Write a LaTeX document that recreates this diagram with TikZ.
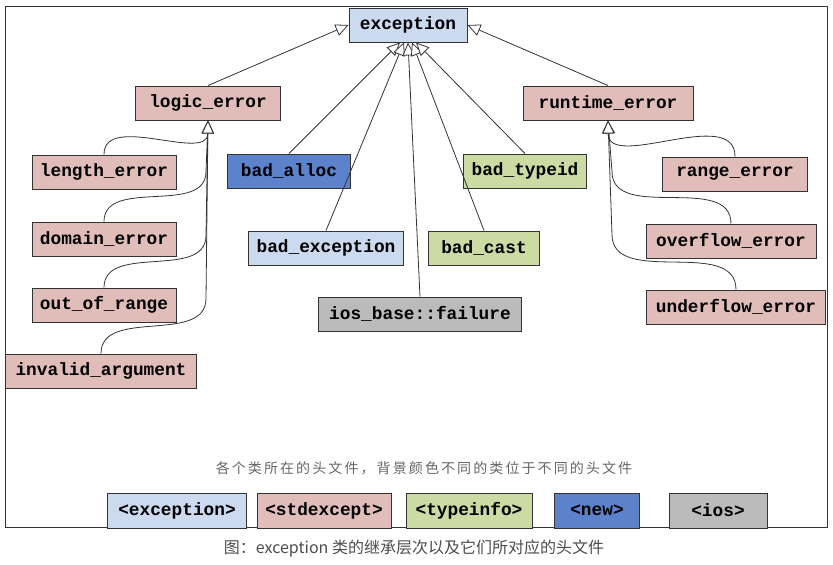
\documentclass[tikz,border=0pt]{standalone}
\usepackage{fontspec}
\usepackage{xcolor}
\usepackage{tikz}
\usetikzlibrary{arrows.meta,positioning,calc}
\setmonofont{Liberation Mono}
\newfontfamily\cjk{Noto Sans CJK SC}
\definecolor{hdrexception}{RGB}{204,218,240}
\definecolor{hdrstdexcept}{RGB}{224,189,185}
\definecolor{hdrtypeinfo}{RGB}{204,218,163}
\definecolor{hdrnew}{RGB}{92,130,204}
\definecolor{hdrios}{RGB}{187,187,187}
\definecolor{edgegray}{RGB}{51,51,51}

\begin{document}
\begin{tikzpicture}[x=1pt, y=1pt,
    cls/.style={draw=edgegray, line width=0.9pt, minimum height=34pt, inner sep=0pt,
      font=\fontsize{17.8}{20}\selectfont\ttfamily\bfseries},
    inh/.style={draw=edgegray, line width=0.8pt,
      -{Triangle[fill=white, length=13pt, width=12pt]}}]
        \useasboundingbox (0,0) rectangle (833,565);

        % Outer frame
        \draw[edgegray, line width=1pt] (5,37) rectangle (827,558);

        % Root of the hierarchy
        \node[cls, fill=hdrexception, minimum width=118pt] (exc) at (408,540) {exception};

        % Second level
        \node[cls, fill=hdrstdexcept, minimum width=145pt] (logic) at (208,462) {logic\_error};
        \node[cls, fill=hdrstdexcept, minimum width=170pt] (runtime) at (608,462) {runtime\_error};

        % Children of logic_error
        \node[cls, fill=hdrstdexcept, minimum width=144pt] (len) at (104,393) {length\_error};
        \node[cls, fill=hdrstdexcept, minimum width=144pt] (dom) at (104,326) {domain\_error};
        \node[cls, fill=hdrstdexcept, minimum width=144pt] (oor) at (104,260) {out\_of\_range};
        \node[cls, fill=hdrstdexcept, minimum width=191pt] (inv) at (101,194) {invalid\_argument};

        % Direct children of exception
        \node[cls, fill=hdrnew, minimum width=123pt] (alloc) at (289,394) {bad\_alloc};
        \node[cls, fill=hdrexception, minimum width=155pt] (bexc) at (326,317) {bad\_exception};
        \node[cls, fill=hdrios, minimum width=203pt] (ios) at (420,251) {ios\_base::failure};
        \node[cls, fill=hdrtypeinfo, minimum width=123pt] (typeid) at (525,394) {bad\_typeid};
        \node[cls, fill=hdrtypeinfo, minimum width=111pt] (cast) at (484,317) {bad\_cast};

        % Children of runtime_error
        \node[cls, fill=hdrstdexcept, minimum width=145pt] (rng) at (735,391) {range\_error};
        \node[cls, fill=hdrstdexcept, minimum width=170pt] (ovf) at (731,324) {overflow\_error};
        \node[cls, fill=hdrstdexcept, minimum width=179pt] (unf) at (736,258) {underflow\_error};

        % Inheritance arrows to exception
        \draw[inh] (logic.north) -- (exc.west);
        \draw[inh] (runtime.north) -- (exc.east);
        \draw[inh] (alloc.north) -- ([xshift=-8pt]exc.south);
        \draw[inh] (bexc.north) -- ([xshift=-4pt]exc.south);
        \draw[inh] (ios.north) -- (exc.south);
        \draw[inh] (cast.north) -- ([xshift=4pt]exc.south);
        \draw[inh] (typeid.north) -- ([xshift=8pt]exc.south);

        % Inheritance arrows to logic_error
        \draw[inh] (len.north) to[out=90, in=-90] (logic.south);
        \foreach \kid/\rise in {dom/50, oor/52, inv/55} {
          \draw[inh] (\kid.north) to[out=90, in=-90]
            ($(logic.south |- \kid.north)+(-2,\rise)$) -- (logic.south);
        }

        % Inheritance arrows to runtime_error
        \draw[inh] (rng.north) to[out=90, in=-90] (runtime.south);
        \foreach \kid/\rise in {ovf/52, unf/55} {
          \draw[inh] (\kid.north) to[out=90, in=-90]
            ($(runtime.south |- \kid.north)+(4,\rise)$) -- (runtime.south);
        }

        % Legend of header files
        \node[text=black!60, font=\cjk\fontsize{14}{16}\selectfont\addfontfeature{LetterSpace=15}]
          (note) at (424,97) {各个类所在的头文件，背景颜色不同的类位于不同的头文件};
        \node[cls, fill=hdrexception, minimum width=139pt, minimum height=35pt] (hexc) at (177,54.5) {<exception>};
        \node[cls, fill=hdrstdexcept, minimum width=134pt, minimum height=35pt] (hstd) at (324,54.5) {<stdexcept>};
        \node[cls, fill=hdrtypeinfo, minimum width=126pt, minimum height=35pt] (htyp) at (469,54.5) {<typeinfo>};
        \node[cls, fill=hdrnew, minimum width=85pt, minimum height=35pt] (hnew) at (597,54.5) {<new>};
        \node[cls, fill=hdrios, minimum width=98pt, minimum height=35pt] (hios) at (718,54.5) {<ios>};

        % Caption
        \node[text=black!70, font=\cjk\fontsize{16}{18}\selectfont]
          (caption) at (414,16) {图：exception 类的继承层次以及它们所对应的头文件};
      \end{tikzpicture}
\end{document}
